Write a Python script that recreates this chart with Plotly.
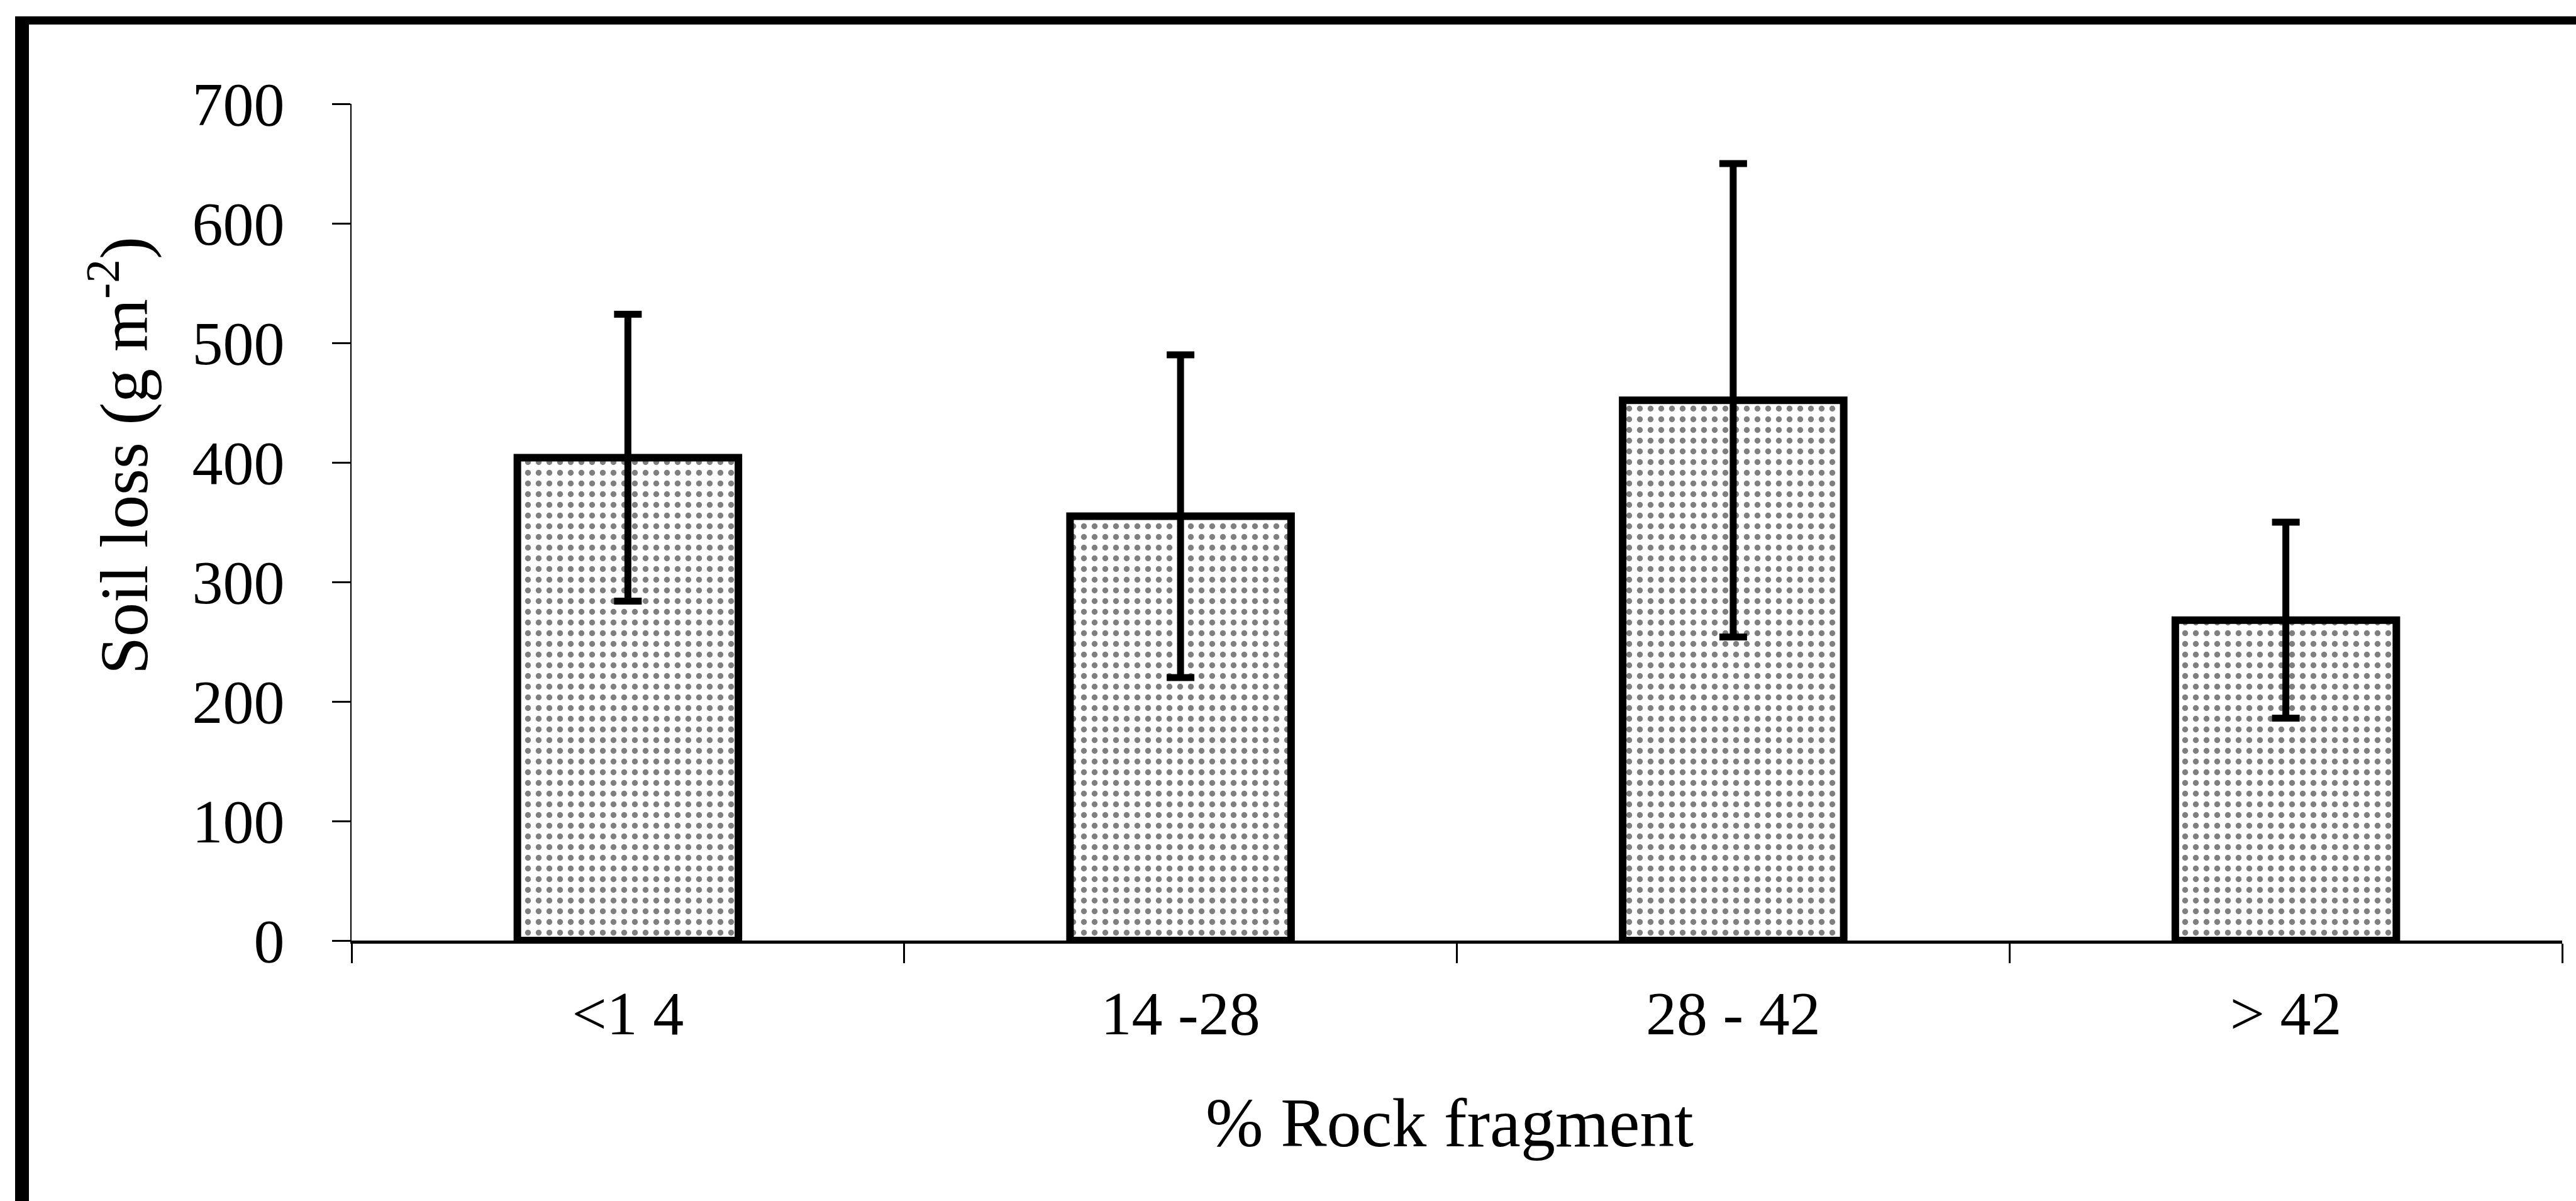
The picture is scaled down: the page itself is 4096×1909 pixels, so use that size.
import plotly.graph_objects as go

# ---- data ----
categories = ["<1 4", "14 -28", "28 - 42", "> 42"]
soil_loss = [404, 355, 452, 268]
soil_loss_err = [120, 135, 198, 82]
y_ticks = [0, 100, 200, 300, 400, 500, 600, 700]

# ---- canvas / plot-area geometry (output pixels) ----
W, H = 4096, 1909
L, R, T, B = 559, 4074, 165, 1495

def px(x):
    return (x - L) / (R - L)

def py(y):
    return (B - y) / (B - T)

FONT = "Liberation Serif, Times New Roman, serif"

fig = go.Figure(
    go.Bar(
        x=categories,
        y=soil_loss,
        marker=dict(
            color="white",
            line=dict(color="black", width=12),
            pattern=dict(shape=".", size=17, solidity=0.24,
                         fgcolor="black", bgcolor="white"),
        ),
        error_y=dict(type="data", array=soil_loss_err, visible=True,
                     color="black", thickness=11, width=22),
        showlegend=False,
    )
)

fig.update_layout(
    width=W, height=H,
    margin=dict(l=L, r=W - R, t=T, b=H - B, pad=0),
    paper_bgcolor="white", plot_bgcolor="white",
    bargap=0.6,
    font=dict(family=FONT, color="black"),
    xaxis=dict(
        type="category",
        showline=True, linecolor="black", linewidth=5,
        ticks="outside", tickson="boundaries", ticklen=31,
        tickwidth=2.5, tickcolor="black",
        tickfont=dict(family=FONT, size=98, color="black"),
        showgrid=False, zeroline=False,
        ticklabelstandoff=26,
    ),
    yaxis=dict(
        range=[0, 700], tickmode="array", tickvals=y_ticks,
        showline=True, linecolor="black", linewidth=2,
        ticks="outside", ticklen=29, tickwidth=2.5, tickcolor="black",
        tickfont=dict(family=FONT, size=98, color="black"),
        showgrid=False, zeroline=False,
        ticklabelstandoff=56,
    ),
    annotations=[
        dict(text="Soil loss (g m<sup>-2</sup>)", xref="paper", yref="paper",
             x=px(190), y=py(724), textangle=-90, showarrow=False,
             xanchor="center", yanchor="middle",
             font=dict(family=FONT, size=108, color="black")),
        dict(text="% Rock fragment", xref="paper", yref="paper",
             x=px(2305), y=py(1785), showarrow=False,
             xanchor="center", yanchor="middle",
             font=dict(family=FONT, size=110, color="black")),
    ],
    shapes=[
        dict(type="rect", xref="paper", yref="paper",
             x0=px(24), x1=px(46), y0=py(H + 10), y1=py(26),
             fillcolor="black", line=dict(width=0), layer="above"),
        dict(type="rect", xref="paper", yref="paper",
             x0=px(24), x1=px(W + 10), y0=py(39), y1=py(26),
             fillcolor="black", line=dict(width=0), layer="above"),
    ],
)

fig.write_html("out.html")
